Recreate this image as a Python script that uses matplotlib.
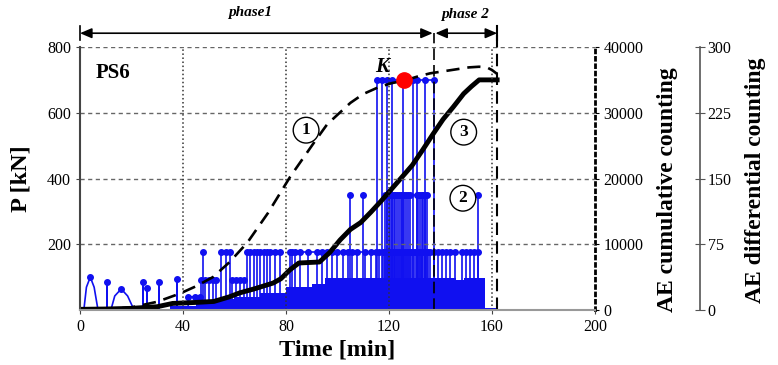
import numpy as np
import matplotlib

matplotlib.use("Agg")
import matplotlib.pyplot as plt

plt.rcParams["font.family"] = ["Liberation Serif", "DejaVu Serif"]

BLUE = "#1010f0"

# load curve (1) : P [kN]
load_t = [0, 10, 20, 30, 38.8, 45, 51.6, 58, 65, 73, 81.6, 90.5, 96, 105, 110,
          116, 121, 126, 131, 136, 141, 146, 151, 155, 158, 160, 162]
load_p = [0, 2, 8, 25, 50, 72, 100, 145, 205, 295, 405, 505, 565, 630, 657,
          678, 690, 698, 710, 720, 726, 732, 738, 740, 738, 730, 718]

# AE cumulative counting (3)
cum_t = [0, 10, 20, 30, 36, 45, 52, 58, 62, 68, 75, 78, 81.5, 85, 93, 97, 101,
         105, 109, 113, 117, 121, 125, 129, 133, 137, 141, 145, 149, 152, 155,
         158, 162]
cum_n = [100, 150, 250, 500, 1000, 1150, 1300, 2000, 2600, 3250, 4100, 4750,
         6100, 7150, 7300, 8750, 10650, 12250, 13300, 14900, 16600, 18400,
         20200, 22000, 24300, 26700, 29000, 30900, 32900, 34000, 35000, 35000,
         35000]

# AE differential counting (2)
early_t = [0, 1.5, 2.5, 4, 5.5, 7, 10.5, 10.5, 10.5, 12, 13.5, 16, 18.5, 21,
           24.5, 24.5, 24.5, 26, 26, 26, 30.7, 30.7, 30.7, 37.7, 37.7, 37.7,
           42, 42, 44.7, 46.6, 46.6]
early_v = [0, 0, 26, 37.5, 26, 0, 0, 32, 0, 0, 16, 24, 16, 0,
           0, 32, 0, 0, 25, 0, 0, 32, 0, 0, 35, 0,
           0, 15, 15, 15, 0]
early_pk_t = [4, 10.5, 16, 24.5, 26, 30.7, 37.7, 42, 44.7, 46.6]
early_pk_v = [37.5, 32, 24, 32, 25, 32, 35, 15, 15, 15]

band_t = [35, 45, 52, 60, 70, 80, 90, 95, 118, 146, 149, 157.3, 162]
band_v = [4, 9, 13, 15, 19, 26, 30, 36, 37, 34, 37, 2, 2]

l1_a = [47, 48.5, 50, 51.5, 52.8]
l1_b = [59, 60.5, 62, 63.5]
l2_a = [47.8]
l2_b = [54.6, 56.6, 58.3]
l2_c = [65, 66.2, 67.5, 68.8, 70, 71.3, 72.5, 73.8, 75.7, 77.7]
l2_main = [81.5, 82.5, 83.5, 85.4, 88.5, 92, 94, 96, 98, 100, 102, 104, 105.6,
           107.6, 110.7, 113, 115, 116.3, 117.7, 118.6, 119.6, 120.4, 121,
           121.8, 122.5, 123.3, 124, 124.8, 125.5, 126.3, 127, 127.8, 128.5,
           129.3, 130, 130.8, 131.5, 132.3, 133, 133.8, 134.5, 135.3, 136,
           137.5, 139, 140.5, 142, 143.5, 145.6]
l2_late = [148.5, 150, 151.5, 153, 154.6]
l3_single = [105, 110]
l3_main = [118.5, 119.2, 119.9, 120.5, 121.1, 121.8, 122.5, 123.1, 123.8,
           124.5, 125.1, 125.8, 126.5, 127.2, 128, 130.7, 131.4, 132, 132.7,
           133.3, 134, 134.6]
l3_late = [154.6]
l4_main = [115.2, 117.2, 119.1, 121, 125.5, 129.5, 131, 134, 137.5]
L1, L2, L3, L4 = 34, 66, 131, 262

K_t, K_p = 126, 700
phase_edges = [0, 137.5, 162]


def draw_group(axis, times, level, connect=True):
    axis.vlines(times, 0, level, color=BLUE, lw=1.2, zorder=2)
    if connect and len(times) > 1:
        axis.hlines(level, min(times), max(times), color=BLUE, lw=1.2, zorder=2)
    axis.plot(times, [level] * len(times), "o", color=BLUE, ms=4, zorder=3)


fig = plt.figure(figsize=(7.78, 3.65), dpi=100)
ax = fig.add_axes([0.1028, 0.1507, 0.662, 0.7205])
ax2 = ax.twinx()
ax3 = ax.twinx()
ax3.set_zorder(1)
ax2.set_zorder(2)
ax.set_zorder(3)
ax.patch.set_visible(False)
ax2.patch.set_visible(False)

# differential counting (blue)
ax3.set_ylim(0, 300)
ax3.fill_between(band_t, band_v, step="post", color=BLUE, lw=0, zorder=1)
ax3.plot(early_t, early_v, color=BLUE, lw=1.2)
ax3.plot(early_pk_t, early_pk_v, "o", color=BLUE, ms=4)
for grp, lev in [(l1_a, L1), (l1_b, L1), (l2_a, L2), (l2_b, L2), (l2_c, L2),
                 (l2_main, L2), (l2_late, L2), (l3_main, L3), (l4_main, L4)]:
    draw_group(ax3, grp, lev)
draw_group(ax3, l3_single, L3, connect=False)
draw_group(ax3, l3_late, L3, connect=False)

# cumulative counting (black)
ax2.set_ylim(0, 40000)
ax2.plot(cum_t, cum_n, color="black", lw=3.5, solid_joinstyle="round")

# load
ax.set_xlim(0, 200)
ax.set_ylim(0, 800)
ax.plot(load_t, load_p, color="black", lw=1.9, dashes=(5, 3))
ax.plot(K_t, K_p, "o", color="red", ms=11, zorder=10)

# grid
for yv in [200, 400, 600, 800]:
    ax.axhline(yv, color="#666666", lw=1, dashes=(3, 2.5), zorder=0.5)
for xv in [40, 80, 120, 160]:
    ax.axvline(xv, color="#333333", lw=1.1, ls=":", zorder=0.5)

# phase boundaries and arrows
ax.plot([phase_edges[1]] * 2, [0, 842], color="black", lw=1.2, dashes=(7, 3),
        clip_on=False)
ax.plot([phase_edges[2]] * 2, [0, 842], color="black", lw=1.5, dashes=(6, 3),
        clip_on=False)
ax.plot([phase_edges[0]] * 2, [820, 865], color="black", lw=1.2, clip_on=False)
ax.plot([phase_edges[2]] * 2, [820, 865], color="black", lw=1.5, clip_on=False)
arrow = dict(arrowstyle="<|-|>,head_length=0.7,head_width=0.3", color="black",
             lw=1.2, shrinkA=0, shrinkB=0)
ax.annotate("", xy=(phase_edges[0], 842), xytext=(phase_edges[1] - 0.5, 842),
            arrowprops=arrow, annotation_clip=False)
ax.annotate("", xy=(phase_edges[1] + 0.5, 842), xytext=(phase_edges[2], 842),
            arrowprops=arrow, annotation_clip=False)
ax.text(66, 905, "phase1", ha="center", va="center", fontsize=11,
        fontweight="bold", fontstyle="italic")
ax.text(149.5, 900, "phase 2", ha="center", va="center", fontsize=11,
        fontweight="bold", fontstyle="italic")

ax.text(6, 722, "PS6", ha="left", va="center", fontsize=15, fontweight="bold")
ax.text(117.5, 738, "K", ha="center", va="center", fontsize=15,
        fontweight="bold", fontstyle="italic")
circ = dict(boxstyle="circle,pad=0.28", fc="white", ec="black", lw=1)
for tx, ty, lab in [(87.8, 547, "1"), (148.7, 340, "2"), (149, 541, "3")]:
    ax.text(tx, ty, lab, ha="center", va="center", fontsize=12.5,
            fontweight="bold", bbox=circ, zorder=11)

# axes styling
ax.set_xticks([0, 40, 80, 120, 160, 200])
ax.set_yticks([200, 400, 600, 800])
ax.tick_params(labelsize=11.5, length=3, color="#444444")
ax.set_xlabel("Time [min]", fontsize=17.5, fontweight="bold", labelpad=3)
ax.set_ylabel("P [kN]", fontsize=17.5, fontweight="bold", labelpad=11)
ax.spines["top"].set_visible(False)
ax.spines["right"].set_visible(False)
ax.spines["left"].set_color("#444444")
ax.spines["left"].set_linewidth(1.5)
ax.spines["bottom"].set_color("#999999")
ax.spines["bottom"].set_linewidth(1.5)

ax2.set_yticks([0, 10000, 20000, 30000, 40000])
ax2.tick_params(labelsize=11.5, length=3, pad=3)
for s in ["top", "left", "bottom"]:
    ax2.spines[s].set_visible(False)
ax2.spines["right"].set_linestyle(":")
ax2.spines["right"].set_linewidth(2)

ax3.spines["right"].set_position(("axes", 1.204))
ax3.set_yticks([0, 75, 150, 225, 300])
ax3.tick_params(labelsize=11.5, length=7, direction="inout", color="#555555",
                pad=2)
for s in ["top", "left", "bottom"]:
    ax3.spines[s].set_visible(False)
ax3.spines["right"].set_color("#555555")
ax3.spines["right"].set_linewidth(1.2)

fig.text(667 / 778, 1 - 190 / 365, "AE cumulative counting", rotation=90,
         ha="center", va="center", fontsize=17, fontweight="bold")
fig.text(755 / 778, 1 - 180 / 365, "AE differential counting", rotation=90,
         ha="center", va="center", fontsize=17, fontweight="bold")

fig.savefig("out.png", dpi=100)
